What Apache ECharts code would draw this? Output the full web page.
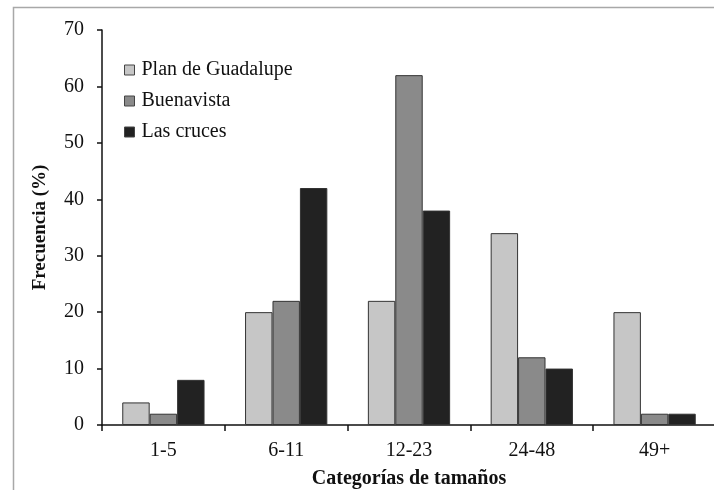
<!DOCTYPE html>
<html>
<head>
<meta charset="utf-8">
<script src="https://cdn.jsdelivr.net/npm/echarts@6/dist/echarts.min.js"></script>
<style>
html,body{margin:0;padding:0;background:#fff;}
#chart{width:714px;height:490px;}
</style>
</head>
<body>
<div id="chart"></div>
<script>
const categories = ['1-5', '6-11', '12-23', '24-48', '49+'];
const planDeGuadalupe = [4, 20, 22, 34, 20];
const buenavista = [2, 22, 62, 12, 2];
const lasCruces = [8, 42, 38, 10, 2];
const yTicks = [0, 10, 20, 30, 40, 50, 60, 70];

const font = '"Liberation Serif", "Times New Roman", serif';
const chart = echarts.init(document.getElementById('chart'), null, {renderer: 'canvas'});

function barSeries(name, data, color) {
  return {
    name: name,
    type: 'bar',
    data: data,
    barGap: '0%',
    barCategoryGap: '33%',
    itemStyle: {color: color, borderColor: '#333', borderWidth: 1},
    emphasis: {disabled: true}
  };
}

chart.setOption({
  animation: false,
  backgroundColor: '#fff',
  graphic: [{
    type: 'rect',
    silent: true,
    shape: {x: 13.5, y: 7.5, width: 900, height: 700},
    style: {fill: 'none', stroke: '#a8a8a8', lineWidth: 1.5},
    z: -10
  }],
  grid: {left: 102, top: 30, right: -2, bottom: 65, containLabel: false, outerBoundsMode: 'none'},
  legend: {
    orient: 'vertical',
    left: 119,
    top: 55,
    itemWidth: 10,
    itemHeight: 10,
    itemGap: 11,
    icon: 'rect',
    itemStyle: {borderColor: '#444', borderWidth: 1},
    textStyle: {fontFamily: font, fontSize: 20, color: '#111', lineHeight: 20, padding: [0, 0, 0, 2]},
    data: ['Plan de Guadalupe', 'Buenavista', 'Las cruces']
  },
  xAxis: {
    type: 'category',
    data: categories,
    name: 'Categorías de tamaños',
    nameLocation: 'middle',
    nameGap: 44,
    nameTextStyle: {fontFamily: font, fontSize: 20, fontWeight: 'bold', color: '#111'},
    axisLine: {lineStyle: {color: '#111', width: 1.5}},
    axisTick: {show: true, length: 6, inside: false, lineStyle: {color: '#111', width: 1.5}},
    axisLabel: {fontFamily: font, fontSize: 20, color: '#111', margin: 16},
    splitLine: {show: false}
  },
  yAxis: {
    type: 'value',
    min: 0,
    max: 70,
    interval: 10,
    name: 'Frecuencia (%)',
    nameLocation: 'middle',
    nameGap: 52,
    nameTextStyle: {fontFamily: font, fontSize: 19, fontWeight: 'bold', color: '#111'},
    axisLine: {show: true, lineStyle: {color: '#111', width: 1.5}},
    axisTick: {show: true, length: 5, lineStyle: {color: '#111', width: 1.5}},
    axisLabel: {fontFamily: font, fontSize: 20, color: '#111', margin: 18,
      formatter: function (v) { return yTicks.indexOf(v) >= 0 ? String(v) : ''; }},
    splitLine: {show: false}
  },
  series: [
    barSeries('Plan de Guadalupe', planDeGuadalupe, '#c6c6c6'),
    barSeries('Buenavista', buenavista, '#8a8a8a'),
    barSeries('Las cruces', lasCruces, '#222222')
  ]
});
</script>
</body>
</html>
